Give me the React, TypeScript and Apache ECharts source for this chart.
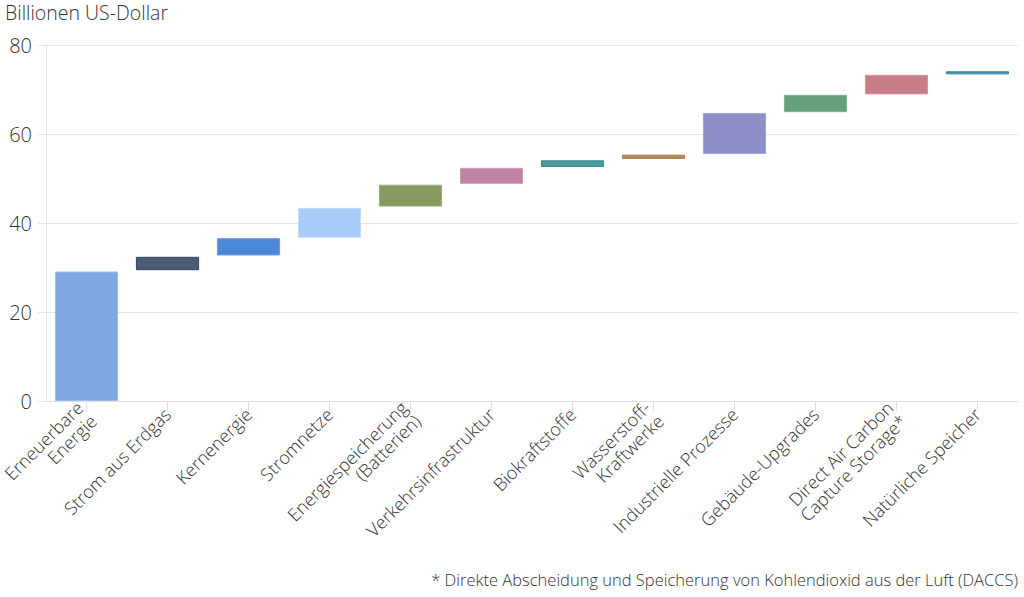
import React, { useEffect, useRef } from "react";
import * as echarts from "echarts";

const categories = [
  "Erneuerbare\nEnergie",
  "Strom aus Erdgas",
  "Kernenergie",
  "Stromnetze",
  "Energiespeicherung\n(Batterien)",
  "Verkehrsinfrastruktur",
  "Biokraftstoffe",
  "Wasserstoff-\nKraftwerke",
  "Industrielle Prozesse",
  "Gebäude-Upgrades",
  "Direct Air Carbon\nCapture Storage*",
  "Natürliche Speicher",
];
const startValues = [0, 29.4, 32.7, 36.7, 43.7, 48.8, 52.6, 54.4, 55.5, 64.9, 68.9, 73.4];
const endValues = [29.1, 32.4, 36.6, 43.4, 48.6, 52.4, 54.1, 55.35, 64.7, 68.8, 73.3, 74.1];
const barColors = [
  "#7fa8e1",
  "#4a5b77",
  "#4f87d8",
  "#a8ccf8",
  "#86995f",
  "#be82a4",
  "#4a9a9f",
  "#b68b5b",
  "#8d8dc7",
  "#66a07b",
  "#c77e89",
  "#4b93b5",
];
const borderColors = [
  "#9bbbe8",
  "#36445c",
  "#6d9be0",
  "#c2dbfa",
  "#9aab78",
  "#cc9bb7",
  "#3a8a90",
  "#a67a4b",
  "#a2a2d2",
  "#7fb191",
  "#d396a0",
  "#3a83a5",
];
const yTicks = [0, 20, 40, 60, 80];
const titleText = "Billionen US-Dollar";
const footnoteText = "* Direkte Abscheidung und Speicherung von Kohlendioxid aus der Luft (DACCS)";

const FONT = "'Open Sans', 'Noto Sans', sans-serif";

export default function App() {
  const ref = useRef<HTMLDivElement>(null);
  useEffect(() => {
    if (!ref.current) return;
    const chart = echarts.init(ref.current, undefined, { renderer: "svg" });
    const diffs = endValues.map((e, i) => +(e - startValues[i]).toFixed(3));
    chart.setOption({
      animation: false,
      backgroundColor: "#ffffff",
      textStyle: { fontFamily: FONT },
      grid: {
        left: 46,
        right: 6,
        top: 45,
        bottom: 196,
        containLabel: false,
        outerBoundsMode: "none",
      },
      graphic: [
        {
          type: "text",
          left: 5,
          top: 2,
          style: { text: titleText, fontSize: 19.5, fontFamily: FONT, fontWeight: 300, fill: "#333" },
        },
        {
          type: "text",
          right: 6,
          top: 571,
          style: { text: footnoteText, fontSize: 16.5, fontFamily: FONT, fontWeight: 300, fill: "#333" },
        },
      ],
      xAxis: {
        type: "category",
        data: categories,
        axisLine: { lineStyle: { color: "#e0e0e0", width: 1 } },
        axisTick: { show: true, alignWithLabel: true, length: 10, lineStyle: { color: "#e0e0e0" } },
        axisLabel: {
          rotate: 45,
          interval: 0,
          margin: 10,
          fontSize: 18,
          fontWeight: 300,
          color: "#333",
          lineHeight: 19,
          fontFamily: FONT,
        },
      },
      yAxis: {
        type: "value",
        min: 0,
        max: 80,
        interval: 20,
        axisLine: { show: true, lineStyle: { color: "#e6e6e6" } },
        axisTick: { show: true, length: 8, lineStyle: { color: "#e6e6e6" } },
        splitLine: { lineStyle: { color: "#e6e6e6" } },
        axisLabel: {
          fontSize: 20,
          fontWeight: 300,
          color: "#333",
          margin: 14,
          fontFamily: FONT,
          formatter: (v: number) => (yTicks.includes(v) ? String(v) : ""),
        },
      },
      series: [
        {
          type: "bar",
          stack: "w",
          data: startValues,
          itemStyle: { color: "transparent" },
          barWidth: "78%",
          silent: true,
        },
        {
          type: "bar",
          stack: "w",
          barWidth: "78%",
          data: diffs.map((d, i) => ({
            value: d,
            itemStyle: { color: barColors[i], borderColor: borderColors[i], borderWidth: 1 },
          })),
        },
      ],
    });
    return () => chart.dispose();
  }, []);
  return (
    <div
      ref={ref}
      style={{ position: "fixed", left: 0, top: 0, width: 1024, height: 597, background: "#fff" }}
    />
  );
}
